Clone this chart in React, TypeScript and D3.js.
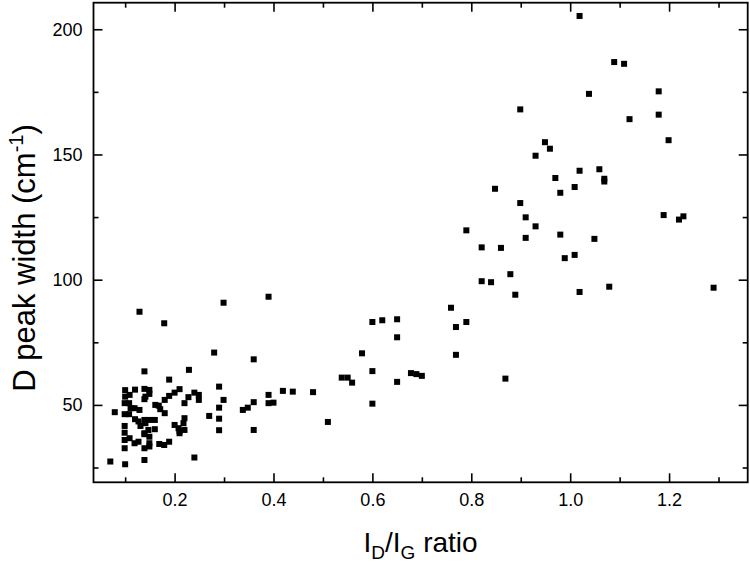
import React, { useRef, useEffect } from "react";
import * as d3 from "d3";

// I_D/I_G ratio
const ratio = [
  0.070, 0.100, 0.139, 0.240, 0.079, 0.100, 0.120, 0.139, 0.149, 0.109,
  0.100, 0.139, 0.141, 0.149, 0.099, 0.108, 0.111, 0.119, 0.129, 0.099,
  0.108, 0.120, 0.127, 0.139, 0.149, 0.160, 0.141, 0.131, 0.147, 0.139,
  0.099, 0.099, 0.099, 0.109, 0.119, 0.127, 0.149, 0.149, 0.099, 0.139,
  0.149, 0.139, 0.160, 0.161, 0.169, 0.179, 0.189, 0.180, 0.189, 0.200,
  0.210, 0.168, 0.171, 0.180, 0.200, 0.208, 0.210, 0.220, 0.218, 0.220,
  0.210, 0.220, 0.228, 0.240, 0.249, 0.249, 0.129, 0.179, 0.139, 0.229,
  0.189,
  0.280, 0.299, 0.390, 0.360, 0.290, 0.299, 0.290, 0.270, 0.290, 0.290,
  0.360, 0.338, 0.348, 0.360, 0.390, 0.390, 0.400, 0.419, 0.439, 0.480,
  0.510, 0.538, 0.550, 0.559, 0.579, 0.600, 0.620, 0.650, 0.650, 0.600,
  0.650, 0.678, 0.689, 0.700, 0.600, 0.759, 0.790, 0.769, 0.769, 0.869,
  0.821, 0.860, 0.821, 0.840, 0.879, 0.889, 1.019, 1.079, 1.290, 0.989,
  1.009, 0.790, 1.019, 1.089, 1.109, 1.038, 1.179, 0.899, 1.120, 1.179,
  1.199, 0.949, 0.959, 0.930, 1.019, 1.059, 1.069, 1.069, 0.970, 1.009,
  0.980, 0.848, 0.899, 0.910, 0.930, 0.910, 0.980, 1.049, 1.189, 1.220,
  1.229
];

// D peak width (cm-1)
const width = [
  27.4, 26.3, 28.0, 29.0, 47.1, 55.9, 56.1, 56.4, 56.0, 54.0,
  53.3, 52.3, 53.3, 54.4, 50.7, 50.7, 48.7, 48.7, 48.0, 46.3,
  46.3, 44.3, 43.4, 44.0, 44.0, 44.0, 42.7, 41.6, 40.0, 38.7,
  41.6, 38.9, 36.0, 36.7, 34.7, 35.3, 37.3, 34.7, 32.7, 32.7,
  33.4, 38.3, 40.3, 50.0, 34.4, 34.0, 35.3, 52.0, 53.6, 54.9,
  56.3, 49.7, 48.3, 46.7, 42.0, 40.7, 39.6, 44.7, 42.7, 40.0,
  38.7, 50.7, 53.1, 54.9, 54.0, 52.0, 87.2, 82.6, 63.4, 64.0,
  60.1,
  70.9, 90.8, 93.2, 68.2, 57.3, 52.0, 48.9, 45.6, 44.5, 39.9,
  40.0, 48.0, 48.9, 51.1, 54.0, 50.7, 50.9, 55.6, 55.3, 55.1,
  43.2, 60.9, 60.9, 58.9, 70.6, 83.1, 83.8, 84.2, 77.0, 63.5,
  59.2, 62.7, 62.3, 61.6, 50.5, 88.8, 83.1, 81.1, 70.0, 60.5,
  112.9, 112.7, 99.4, 99.0, 102.2, 94.0, 95.1, 97.2, 96.8, 108.6,
  109.9, 119.7, 205.3, 186.9, 186.2, 174.2, 175.2, 168.0, 164.1, 165.9,
  155.7, 154.9, 152.3, 149.5, 143.5, 144.1, 140.3, 139.2, 140.6, 137.0,
  134.7, 136.3, 130.6, 124.9, 121.3, 116.7, 118.0, 116.3, 125.8, 124.0,
  125.3
];

const xTicks = [0.2, 0.4, 0.6, 0.8, 1.0, 1.2];
const xMinor = [0.1, 0.3, 0.5, 0.7, 0.9, 1.1, 1.3];
const yTicks = [50, 100, 150, 200];
const yMinor = [25, 75, 125, 175];

function App() {
  const ref = useRef<SVGSVGElement>(null);

  const w = 750,
    h = 566;
  const left = 93.5,
    right = 747.7,
    top = 2.7,
    bottom = 482.3;
  const font = "'Liberation Sans', Arial, sans-serif";

  useEffect(() => {
    const svg = d3.select(ref.current);
    svg.selectAll("*").remove();

    const x = d3.scaleLinear().domain([0.036, 1.359]).range([left, right]);
    const y = d3.scaleLinear().domain([19.1, 210.6]).range([bottom, top]);

    const data = ratio.map((r, i) => ({ r, v: width[i] }));

    // points
    svg
      .append("g")
      .selectAll("rect")
      .data(data)
      .enter()
      .append("rect")
      .attr("x", d => x(d.r) - 3)
      .attr("y", d => y(d.v) - 3)
      .attr("width", 6)
      .attr("height", 6)
      .attr("fill", "#000");

    const style = (g: any) => {
      g.select(".domain").remove();
      g.selectAll("line").attr("stroke", "#000").attr("stroke-width", 1.6);
      g.selectAll("text")
        .attr("fill", "#000")
        .attr("font-family", font)
        .attr("font-size", 18);
    };

    // bottom
    svg
      .append("g")
      .attr("transform", `translate(0,${bottom})`)
      .call(d3.axisBottom(x).tickValues(xTicks).tickSize(-9).tickPadding(11).tickFormat(d3.format(".1f")))
      .call(style);
    svg
      .append("g")
      .attr("transform", `translate(0,${bottom})`)
      .call(d3.axisBottom(x).tickValues(xMinor).tickSize(-5).tickFormat(() => ""))
      .call(style);
    // top
    svg
      .append("g")
      .attr("transform", `translate(0,${top})`)
      .call(d3.axisTop(x).tickValues(xTicks).tickSize(-9).tickFormat(() => ""))
      .call(style);
    svg
      .append("g")
      .attr("transform", `translate(0,${top})`)
      .call(d3.axisTop(x).tickValues(xMinor).tickSize(-5).tickFormat(() => ""))
      .call(style);
    // left
    svg
      .append("g")
      .attr("transform", `translate(${left},0)`)
      .call(d3.axisLeft(y).tickValues(yTicks).tickSize(-9).tickPadding(11))
      .call(style);
    svg
      .append("g")
      .attr("transform", `translate(${left},0)`)
      .call(d3.axisLeft(y).tickValues(yMinor).tickSize(-5).tickFormat(() => ""))
      .call(style);
    // right
    svg
      .append("g")
      .attr("transform", `translate(${right},0)`)
      .call(d3.axisRight(y).tickValues(yTicks).tickSize(-9).tickFormat(() => ""))
      .call(style);
    svg
      .append("g")
      .attr("transform", `translate(${right},0)`)
      .call(d3.axisRight(y).tickValues(yMinor).tickSize(-5).tickFormat(() => ""))
      .call(style);

    // frame
    svg
      .append("rect")
      .attr("x", left)
      .attr("y", top)
      .attr("width", right - left)
      .attr("height", bottom - top)
      .attr("fill", "none")
      .attr("stroke", "#000")
      .attr("stroke-width", 1.8);

    // x title
    const xt = svg
      .append("text")
      .attr("x", (left + right) / 2)
      .attr("y", 552)
      .attr("text-anchor", "middle")
      .attr("font-family", font)
      .attr("font-size", 28)
      .attr("fill", "#000");
    xt.append("tspan").text("I");
    xt.append("tspan").attr("font-size", 19).attr("dy", 7).text("D");
    xt.append("tspan").attr("dy", -7).text("/I");
    xt.append("tspan").attr("font-size", 19).attr("dy", 7).text("G");
    xt.append("tspan").attr("dy", -7).text(" ratio");

    // y title
    const yt = svg
      .append("text")
      .attr("transform", `translate(35,258) rotate(-90)`)
      .attr("text-anchor", "middle")
      .attr("font-family", font)
      .attr("font-size", 31)
      .attr("fill", "#000");
    yt.append("tspan").text("D peak width (cm");
    yt.append("tspan").attr("font-size", 20).attr("dy", -12).text("-1");
    yt.append("tspan").attr("dy", 12).text(")");
  }, []);

  return (
    <svg
      ref={ref}
      width={w}
      height={h}
      style={{ position: "absolute", left: 0, top: 0, background: "#fff" }}
    />
  );
}

export default App;
